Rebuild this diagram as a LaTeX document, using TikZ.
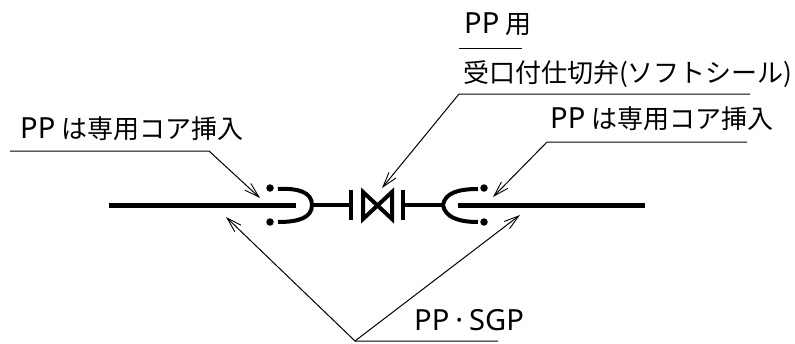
\documentclass[tikz,border=0pt]{standalone}
\usepackage{fontspec}
\setmainfont{Noto Sans CJK JP}
\newfontfamily\latinfont[Scale=1.12]{Noto Sans}
\usetikzlibrary{arrows.meta}

\begin{document}
\begin{tikzpicture}[
        x = 1pt,
        y = -1pt,
        > = {Straight Barb[length=15pt,width=9pt,line width=0.9pt]}, % arrow head style
        leader/.style = {draw = black, line width = 1pt}, % lines to the labels
        pipe/.style = {draw = black, line width = 5pt},
        stub/.style = {draw = black, line width = 3.2pt},
        plate/.style = {draw = black, line width = 4pt},
        sock/.style = {draw = black, line width = 4pt},
        label/.style = {font = \fontsize{26pt}{26pt}\selectfont, inner sep = 0pt, anchor = base west, text = black},
        bolt/.style = {circle, fill = black, inner sep = 0pt, minimum size = 7.5pt}
    ]

    \useasboundingbox (0,0) rectangle (795,343);

    % labels
    \node[label] (coreL) at (20,138) {{\latinfont PP} は専用コア挿入};
    \node[label] (coreR) at (550,128) {{\latinfont PP} は専用コア挿入};
    \node[label] (forPP) at (464,33) {{\latinfont PP} 用};
    \node[label] (valveText) at (463,82) {受口付仕切弁(ソフトシール)};
    \node[label] (pipeText) at (414,330) {\latinfont PP\kern6pt·\kern6pt SGP};

    % left socket
    \coordinate (pipeLa) at (109,205);
    \coordinate (pipeLb) at (296,205);
    \node[bolt] (boltLa) at (270,188) {};
    \node[bolt] (boltLb) at (270,222) {};
    \coordinate (sockLa) at (278,189);
    \coordinate (sockLb) at (278,222);
    \coordinate (sockL) at (312,205);

    % right socket
    \coordinate (pipeRa) at (458,205);
    \coordinate (pipeRb) at (645,205);
    \node[bolt] (boltRa) at (484,188) {};
    \node[bolt] (boltRb) at (484,222) {};
    \coordinate (sockRa) at (478,189);
    \coordinate (sockRb) at (478,222);
    \coordinate (sockR) at (443,205);

    % valve
    \coordinate (barLa) at (351,190);
    \coordinate (barLb) at (351,220);
    \coordinate (barRa) at (403,190);
    \coordinate (barRb) at (403,220);
    \coordinate (bowA) at (363,192);
    \coordinate (bowB) at (392,219);
    \coordinate (bowC) at (392,192);
    \coordinate (bowD) at (363,219);
    \coordinate (barL) at (351,205);
    \coordinate (barR) at (403,205);

    \draw[pipe] (pipeLa) -- (pipeLb);
    \draw[pipe] (pipeRa) -- (pipeRb);
    \draw[sock] (sockLa) .. controls (298,188) and (312,192) .. (sockL)
                         .. controls (312,218) and (298,222) .. (sockLb);
    \draw[sock] (sockRa) .. controls (458,189) and (445,193) .. (sockR)
                         .. controls (445,217) and (458,222) .. (sockRb);
    \draw[stub] (sockL) -- (barL);
    \draw[stub] (barR) -- (sockR);
    \draw[plate] (barLa) -- (barLb);
    \draw[plate] (barRa) -- (barRb);
    \draw[plate, line join = miter] (bowA) -- (bowB) -- (bowC) -- (bowD) -- cycle;

    % leaders
    \coordinate (coreLa) at (10,151);
    \coordinate (coreLb) at (209,151);
    \coordinate (coreLc) at (260,198);
    \coordinate (coreRa) at (747,142);
    \coordinate (coreRb) at (547,142);
    \coordinate (coreRc) at (493,197);
    \coordinate (valveA) at (750,94);
    \coordinate (valveB) at (459,94);
    \coordinate (valveC) at (382,188);
    \coordinate (forA) at (459,48);
    \coordinate (forB) at (522,48);
    \coordinate (pipeA) at (498,341);
    \coordinate (pipeB) at (355,341);
    \coordinate (pipeC) at (226,217);
    \coordinate (pipeD) at (520,215);

    \draw[leader,->] (coreLa) -- (coreLb) -- (coreLc);
    \draw[leader,->] (coreRa) -- (coreRb) -- (coreRc);
    \draw[leader,->] (valveA) -- (valveB) -- (valveC);
    \draw[leader] (forA) -- (forB);
    \draw[leader,->] (pipeA) -- (pipeB) -- (pipeC);
    \draw[leader,->] (pipeB) -- (pipeD);
\end{tikzpicture}
\end{document}
